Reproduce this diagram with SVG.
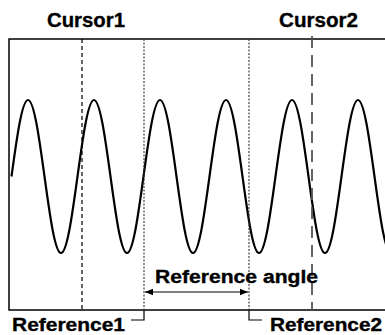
<svg xmlns="http://www.w3.org/2000/svg" width="385" height="335" viewBox="0 0 385 335">
<defs>
<style>
.lbl{font-family:"Liberation Sans",Arial,sans-serif;font-weight:bold;fill:#000;stroke:#000;stroke-width:0.35}
.frame{fill:none;stroke:#000;stroke-width:1.5}
.wave{fill:none;stroke:#000;stroke-width:2.2;stroke-linejoin:round}
.cur1{stroke:#000;stroke-width:1.2;stroke-dasharray:4,3}
.cur2{stroke:#555;stroke-width:1.8;stroke-dasharray:12,7}
.ref{stroke:#333;stroke-width:1.1;stroke-dasharray:2,1.5}
.thin{fill:none;stroke:#000;stroke-width:1.2}
</style>
<marker id="ah" viewBox="0 0 10 10" refX="10" refY="5" markerWidth="8" markerHeight="8" markerUnits="userSpaceOnUse" orient="auto-start-reverse">
<path d="M0,1 L10,5 L0,9 Z" fill="#000"/>
</marker>
</defs>
<g id="frame">
<rect class="frame" x="9" y="39" width="390" height="271"/>
</g>
<g id="wave">
<path class="wave" d="M11.5,176.5 c5.381,-39.19 10.528,-76.5 16.5,-76.5 c5.972,0 11.119,37.31 16.5,76.5 c5.381,39.19 10.528,76.5 16.5,76.5 c5.972,0 11.119,-37.31 16.5,-76.5 c5.381,-39.19 10.528,-76.5 16.5,-76.5 c5.972,0 11.119,37.31 16.5,76.5 c5.381,39.19 10.528,76.5 16.5,76.5 c5.972,0 11.119,-37.31 16.5,-76.5 c5.381,-39.19 10.528,-76.5 16.5,-76.5 c5.972,0 11.119,37.31 16.5,76.5 c5.381,39.19 10.528,76.5 16.5,76.5 c5.972,0 11.119,-37.31 16.5,-76.5 c5.381,-39.19 10.528,-76.5 16.5,-76.5 c5.972,0 11.119,37.31 16.5,76.5 c5.381,39.19 10.528,76.5 16.5,76.5 c5.972,0 11.119,-37.31 16.5,-76.5 c5.381,-39.19 10.528,-76.5 16.5,-76.5 c5.972,0 11.119,37.31 16.5,76.5 c5.381,39.19 10.528,76.5 16.5,76.5 c5.972,0 11.119,-37.31 16.5,-76.5 c5.381,-39.19 10.528,-76.5 16.5,-76.5 c5.972,0 11.119,37.31 16.5,76.5 c5.381,39.19 10.528,76.5 16.5,76.5 c5.972,0 11.119,-37.31 16.5,-76.5"/>
</g>
<g id="cursor1">
<line class="cur1" x1="82" y1="39" x2="82" y2="310"/>
<text class="lbl" x="47" y="27" font-size="20" textLength="78" lengthAdjust="spacingAndGlyphs">Cursor1</text>
</g>
<g id="cursor2">
<line class="cur2" x1="312" y1="36" x2="312" y2="310"/>
<text class="lbl" x="279" y="27" font-size="20" textLength="79" lengthAdjust="spacingAndGlyphs">Cursor2</text>
</g>
<g id="reference1">
<line class="ref" x1="144" y1="39" x2="144" y2="310"/>
<text class="lbl" x="12" y="331" font-size="18" textLength="113" lengthAdjust="spacingAndGlyphs">Reference1</text>
</g>
<g id="reference2">
<line class="ref" x1="249" y1="39" x2="249" y2="310"/>
<text class="lbl" x="270" y="331" font-size="18" textLength="112" lengthAdjust="spacingAndGlyphs">Reference2</text>
</g>
<g id="connectors">
<polyline class="thin" points="144,310 144,320 131,320"/>
<polyline class="thin" points="249,310 249,320 262,320"/>
<line class="thin" x1="145" y1="292" x2="248" y2="292" marker-start="url(#ah)" marker-end="url(#ah)"/>
<text class="lbl" x="155" y="282.5" font-size="18" textLength="163" lengthAdjust="spacingAndGlyphs">Reference angle</text>
</g>
</svg>
